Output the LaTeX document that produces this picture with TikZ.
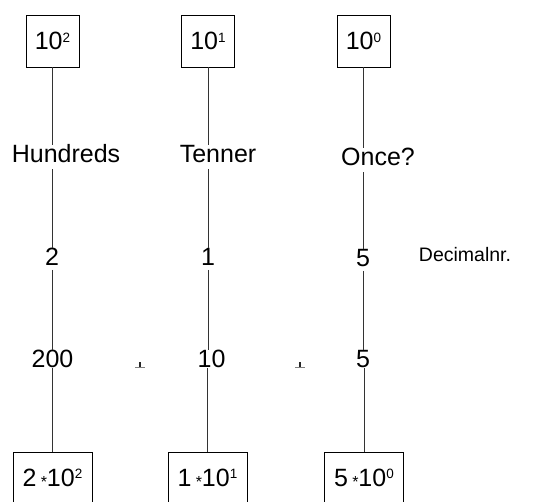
\documentclass[tikz,border=0pt]{standalone}
\usepackage{fontspec}
\setmainfont{Liberation Sans}
\begin{document}
\begin{tikzpicture}[x=1pt,y=-1pt,
  box/.style={draw, line width=0.8pt, minimum width=53pt, minimum height=52pt, inner sep=0pt, font=\fontsize{25}{25}\selectfont},
  bbox/.style={box, minimum width=79pt},
  lbl/.style={inner sep=0pt, font=\fontsize{25}{25}\selectfont},
  note/.style={inner sep=0pt, font=\fontsize{19.5}{20}\selectfont},
  conn/.style={line width=0.8pt, black!80},
  tick/.style={line width=0.6pt, black!50}]
\useasboundingbox (0,0) rectangle (548,501);
\newcommand{\tms}{\,\raisebox{-1pt}{\fontsize{16}{16}\selectfont *}}
\newcommand{\ex}[1]{\raisebox{7.5pt}{\fontsize{13.5}{13.5}\selectfont #1}}
% top boxes
\node[box] (t1) at (52.5,41) {10\ex{2}};
\node[box] (t2) at (208,41) {10\ex{1}};
\node[box] (t3) at (363.5,41) {10\ex{0}};
% names
\node[lbl] (h1) at (66,154) {Hundreds};
\node[lbl] (h2) at (218,154) {Tenner};
\node[lbl] (h3) at (378,157) {Once?};
% digits
\node[lbl] (d1) at (52,257) {2};
\node[lbl] (d2) at (208,257) {1};
\node[lbl] (d3) at (363,258) {5};
\node[note] (dn) at (465,255) {Decimalnr.};
% values
\node[lbl] (n1) at (52.5,359) {200};
\node[lbl] (n2) at (211.5,359) {10};
\node[lbl] (n3) at (363,359) {5};
% bottom boxes
\node[bbox] (b1) at (52.5,478) {2\tms10\ex{2}};
\node[bbox] (b2) at (207.5,478) {1\tms10\ex{1}};
\node[bbox] (b3) at (364,478) {5\tms10\ex{0}};
% connectors
\foreach \i in {1,2,3}{
  \draw[conn] (t\i.south) -- (t\i.south |- h\i.north);
  \draw[conn] (t\i.south |- h\i.south) ++(0,6) coordinate (s\i) -- (s\i |- d\i.north);
  \draw[conn] (s\i |- d\i.south) ++(0,4) coordinate (u\i) -- (u\i |- n\i.north);
  \draw[conn] (b\i.north |- n\i.south) -- (b\i.north);
}
% plus marks
\coordinate (p1) at (140,367);
\coordinate (p2) at (300,367);
\foreach \p in {p1,p2}{
  \draw[tick] ([xshift=-5pt]\p) -- ([xshift=5pt]\p);
  \draw[line width=1.8pt, black!85] (\p) -- ([yshift=5pt]\p);
}
\end{tikzpicture}
\end{document}
